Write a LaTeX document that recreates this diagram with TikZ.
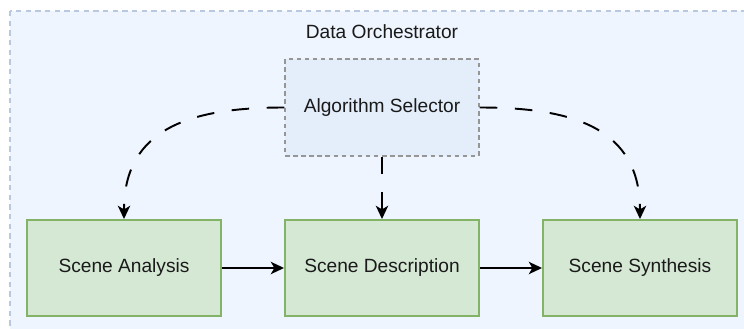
\documentclass[tikz,border=0pt]{standalone}
\usepackage{fontspec}
\setmainfont{Liberation Sans}
\usetikzlibrary{arrows.meta}

\definecolor{orchfill}{RGB}{238,245,254}
\definecolor{orchline}{RGB}{184,200,222}
\definecolor{selfill}{RGB}{228,238,251}
\definecolor{selline}{RGB}{150,150,150}
\definecolor{stagefill}{RGB}{213,232,212}
\definecolor{stageline}{RGB}{130,179,102}
\definecolor{txt}{RGB}{26,26,26}

\begin{document}
\begin{tikzpicture}[
    font=\fontsize{10.9}{13}\selectfont,
    stage/.style={draw=stageline, fill=stagefill, line width=1.1pt, text=txt, text centered, minimum width=3.88cm, minimum height=1.92cm},
    selector/.style={draw=selline, fill=selfill, line width=0.8pt, dash pattern=on 2.6pt off 2pt, text=txt, text centered, minimum width=3.88cm, minimum height=1.94cm},
    flow/.style={line width=1.1pt, -{Stealth[length=7.5pt,width=7pt,inset=2pt]}},
    pick/.style={flow, dash pattern=on 10pt off 10pt}
]
\useasboundingbox (0,0) rectangle (14.88,6.58);
\clip (0,0) rectangle (14.88,6.58);

% container
\draw[orchline, fill=orchfill, line width=0.6pt, dash pattern=on 3pt off 2.5pt] (0.2,6.36) rectangle (15.2,-0.5);
\node[text=txt] (0) at (7.64,5.94) {Data Orchestrator};

    \node[selector] (4) at (7.64,4.43) {Algorithm Selector};
    \node[stage] (1) at (2.48,1.22) {Scene Analysis};
    \node[stage] (2) at (7.64,1.22) {Scene Description};
    \node[stage] (3) at (12.80,1.22) {Scene Synthesis};

\draw[flow] (1) -- (2);
\draw[flow] (2) -- (3);
\draw[pick] (4.west) to[out=180,in=90,looseness=1.2] (1.north);
\draw[pick] (4) -- (2);
\draw[pick] (4.east) to[out=0,in=90,looseness=1.2] (3.north);
\end{tikzpicture}
\end{document}
